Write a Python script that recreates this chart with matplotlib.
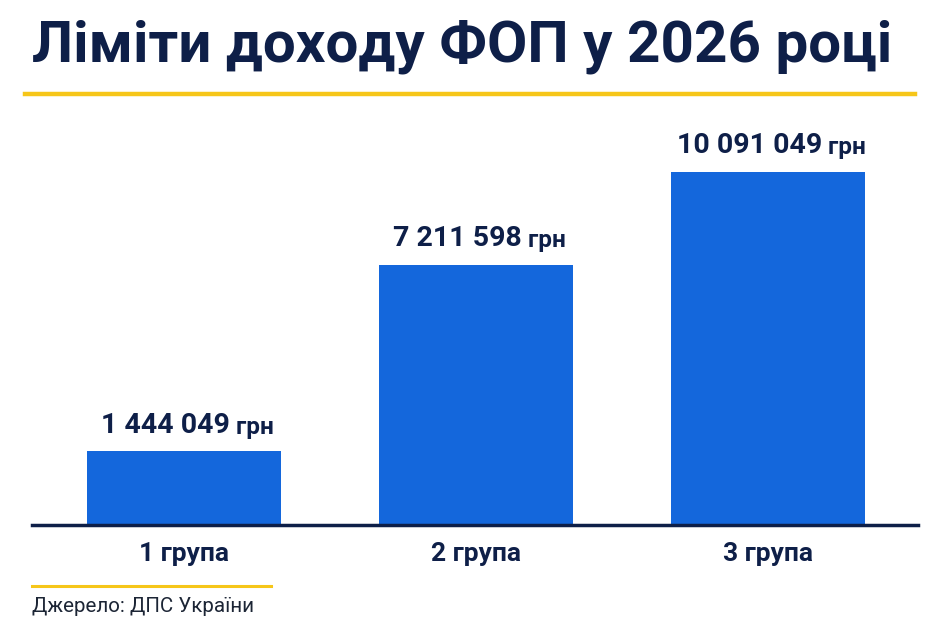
import matplotlib
matplotlib.use("Agg")
import matplotlib.pyplot as plt
import numpy as np

# data
groups = ["1 група", "2 група", "3 група"]
limits = [1444049, 7211598, 10091049]
value_labels = ["1 444 049", "7 211 598", "10 091 049"]
unit = "грн"
title = "Ліміти доходу ФОП у 2026 році"
source = "Джерело: ДПС України"

NAVY = "#0e1f48"
BLUE = "#1467dc"
YELLOW = "#f6c619"
BASE = -0.84e6  # the picture's bars start a bit below zero

plt.rcParams["font.family"] = ["Roboto", "DejaVu Sans"]

fig = plt.figure(figsize=(9.5, 6.33), dpi=100)
ax = fig.add_axes([32 / 950, 1 - 525 / 633, (918 - 32) / 950, (525 - 130) / 633])

x = np.arange(len(groups))
vals = np.array(limits, dtype=float)
ax.bar(x, vals - BASE, bottom=BASE, width=0.665, color=BLUE, zorder=2)

ax.set_xlim(-0.52, 2.515)
ax.set_ylim(BASE, 11.39e6)

for i, v in enumerate(vals):
    t = ax.annotate(value_labels[i], (x[i], v), xytext=(-13, 9), textcoords="offset points",
                    ha="center", va="bottom", fontsize=20.5, fontweight="bold", color=NAVY)
    ax.annotate(" " + unit, (1, 0), xycoords=t, ha="left", va="bottom",
                fontsize=17.5, fontweight="bold", color=NAVY)

for s in ["top", "right", "left"]:
    ax.spines[s].set_visible(False)
ax.spines["bottom"].set_position(("data", BASE))
ax.spines["bottom"].set_color(NAVY)
ax.spines["bottom"].set_linewidth(2.5)
ax.spines["bottom"].set_zorder(3)

ax.set_yticks([])
ax.set_xticks(x)
ax.set_xticklabels(groups, fontsize=19, fontweight="semibold", color=NAVY)
ax.tick_params(axis="x", length=0, pad=12)

fig.text(462 / 950, 1 - 46 / 633, title, ha="center", va="center",
         fontsize=42, fontweight="bold", color=NAVY)
fig.add_artist(plt.Line2D([25 / 950, 915 / 950], [1 - 94 / 633] * 2, color=YELLOW, lw=3.2))
fig.add_artist(plt.Line2D([32 / 950, 271 / 950], [1 - 586 / 633] * 2, color=YELLOW, lw=2.2))
fig.text(32 / 950, 1 - 607 / 633, source, ha="left", va="center", fontsize=14.8, color="#1c2535")

fig.savefig("out.png", dpi=100, facecolor="white")
